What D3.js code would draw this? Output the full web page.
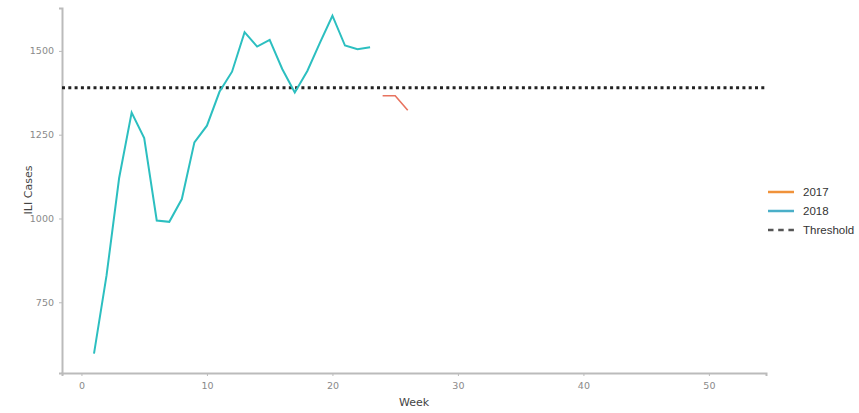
<!DOCTYPE html>
<html><head><meta charset="utf-8">
<script src="https://cdn.jsdelivr.net/npm/d3@7/dist/d3.min.js"></script>
<style>body{margin:0;background:#fff;} svg{display:block;}</style>
</head><body>
<script>
const weeks2018 = [1,2,3,4,5,6,7,8,9,10,11,12,13,14,15,16,17,18,19,20,21,22,23];
const cases2018 = [597,830,1120,1316,1240,994,990,1058,1227,1277,1378,1438,1556,1513,1533,1446,1376,1440,1524,1605,1516,1505,1511];
const weeks2017 = [24,25,26];
const cases2017 = [1366,1366,1323];
const threshold = 1390;
const xTicks = [0,10,20,30,40,50];
const yTicks = [750,1000,1250,1500];
const legendLabels = ["2017","2018","Threshold"];

const W = 859, H = 413;
const svg = d3.select("body").append("svg").attr("width", W).attr("height", H);
const x = d3.scaleLinear().domain([-1.55, 54.55]).range([62, 766]);
const y = d3.scaleLinear().domain([539, 1628]).range([373, 8]);

// axes
const gx = svg.append("g").attr("transform","translate(0,373)")
  .call(d3.axisBottom(x).tickValues(xTicks).tickFormat(d3.format("d")).tickSize(3).tickPadding(6));
const gy = svg.append("g").attr("transform","translate(62,0)")
  .call(d3.axisLeft(y).tickValues(yTicks).tickFormat(d3.format("d")).tickSize(3).tickPadding(5));
[gx, gy].forEach(g => {
  g.select(".domain").attr("stroke","#bbb").attr("stroke-width",2);
  g.selectAll(".tick line").attr("stroke","#bbb");
  g.selectAll(".tick text").attr("fill","#8a8a8a").style("font-family","DejaVu Sans").style("font-size","9.5px");
});

// threshold
svg.append("line").attr("x1",62).attr("x2",766).attr("y1",y(threshold)).attr("y2",y(threshold))
  .attr("stroke","#222").attr("stroke-width",3.2).attr("stroke-dasharray","3,3.3");

const line = d3.line().x(d=>x(d[0])).y(d=>y(d[1]));
svg.append("path").datum(weeks2018.map((w,i)=>[w,cases2018[i]]))
  .attr("d",line).attr("fill","none").attr("stroke","#2CBFC0").attr("stroke-width",2);
svg.append("path").datum(weeks2017.map((w,i)=>[w,cases2017[i]]))
  .attr("d",line).attr("fill","none").attr("stroke","#E8735F").attr("stroke-width",1.6);

// axis titles
svg.append("text").attr("x",414).attr("y",406).attr("text-anchor","middle")
  .style("font-family","DejaVu Sans").style("font-size","11px").attr("fill","#444").text("Week");
svg.append("text").attr("transform","translate(32,190) rotate(-90)").attr("text-anchor","middle")
  .style("font-family","DejaVu Sans").style("font-size","11px").attr("fill","#444").text("ILI Cases");

// legend
const legColors = ["#F0923A","#4AAFC8","#555"];
legendLabels.forEach((lab,i)=>{
  const yy = 192 + i*19;
  svg.append("line").attr("x1",768).attr("x2",794).attr("y1",yy).attr("y2",yy)
    .attr("stroke",legColors[i]).attr("stroke-width",2.5)
    .attr("stroke-dasharray", i===2 ? "5.5,4.7" : null);
  svg.append("text").attr("x",803).attr("y",yy+4).text(lab)
    .style("font-family","Liberation Sans, Arial").style("font-size","11.5px").attr("fill","#333");
});
</script>
</body></html>
